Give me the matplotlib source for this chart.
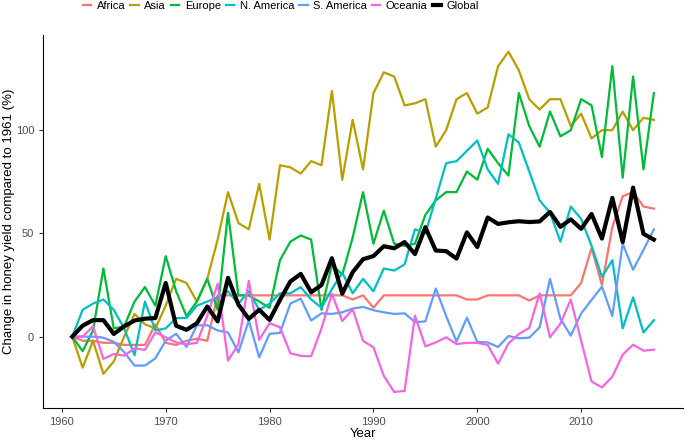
import numpy as np
import matplotlib.pyplot as plt

plt.rcParams['font.family'] = ['Liberation Sans', 'DejaVu Sans']

# Years and series (change in honey yield vs 1961, %)
years = np.arange(1961, 2018)

africa = [0, -2, -2, -3, -3, -4, -4, -4, 6, -3,
          -4, -2, -1, -2, 20, 20, 20, 20, 20, 20,
          20, 20, 20, 20, 20, 20, 20, 18, 20, 14,
          20, 20, 20, 20, 20, 20, 20, 20, 18, 18,
          20, 20, 20, 20, 17.5, 20, 20, 20, 20, 26,
          43, 25, 53, 68, 70, 63, 62]

asia = [0, -15, -2, -18, -12, 0, 11, 6, 4, 15,
        28, 26, 17, 28, 47, 70, 55, 52, 74, 47,
        83, 82, 79, 85, 83, 119, 76, 105, 81, 118,
        128, 126, 112, 113, 115, 92, 100, 115, 118, 108,
        111, 131, 138, 129, 115, 110, 115, 115, 102, 108,
        96, 100, 100, 109, 100, 106, 105]

europe = [0, -7, 3, 33, 4, 5, 17, 24, 15, 39,
          22, 10, 17, 28, 13, 60, 20, 20, 17, 14,
          37, 46, 49, 47, 13, 35, 30, 48, 70, 45,
          61, 45, 44, 45, 59, 66, 70, 70, 80, 76,
          91, 84, 78, 118, 102, 92, 109, 97, 100, 115,
          112, 87, 131, 77, 126, 81, 118]

n_america = [0, 13, 16, 18, 13, 4, -9, 17, 3, 4,
             9, 9, 15, 17, 19, 22, 16, 22, 13, 16,
             21, 21, 24, 18, 14, 23, 31, 21, 28, 22,
             33, 32, 35, 52, 50, 67, 84, 85, 90, 95,
             81, 74, 98, 94, 80, 66, 60, 46, 63, 57,
             44, 29, 37, 4, 19, 2, 8]

s_america = [0, 0, 0, -0.5, -2.5, -7.5, -14, -14, -10.5, -2,
             1.4, -5, 5.5, 5.5, 3, 2, -7.6, 7.8, -10, 1.4,
             1.8, 16, 18.4, 7.8, 11.3, 11, 11.8, 13.6, 14.4, 12.8,
             11.8, 11, 11.3, 7, 7.4, 23.3, 10, -2.4, 9.2, -2.6,
             -2.8, -5, 0.3, -0.8, -0.5, 4.5, 28, 8.7, 0.5, 11.2,
             17.8, 24.2, 10, 45, 32.4, 42, 52]

oceania = [0, 0, 5, -10.8, -8.4, -9.2, -5.7, -6.4, 2, -0.3,
           -2.8, -3.7, -3, 10, 25.6, -11.6, -3.6, 27, -1.5, 6.5,
           4.5, -8, -9.3, -9.5, 4, 20.7, 7.6, 13.3, -2, -5.2,
           -19, -26.8, -26.3, 10.2, -4.7, -2.8, -0.3, -3.6, -3, -3,
           -4, -13, -3.3, 1.3, 4.2, 21, -0.3, 6.3, 18, -2,
           -21.7, -24.6, -19.4, -8.7, -3.9, -6.8, -6.3]

global_ = [0, 5.3, 8, 8, 1.3, 5, 7.8, 8.7, 9, 26,
           5.3, 3.3, 6.5, 14.6, 7.4, 28.5, 15.5, 8.6, 13, 8.1,
           17.8, 26.7, 30.4, 21.5, 25, 38, 20.8, 31.2, 37.5, 39,
           43.8, 42.8, 45.8, 40, 53, 41.7, 41.4, 37.8, 50.5, 43.4,
           57.7, 54.6, 55.4, 55.9, 55.5, 55.8, 60.4, 53.2, 56.8, 52.2,
           59.4, 47.5, 67.2, 45.8, 72.2, 49.8, 47]

regions = ['Africa', 'Asia', 'Europe', 'N. America', 'S. America', 'Oceania']
series = [africa, asia, europe, n_america, s_america, oceania]
colors = ['#F8766D', '#B79F00', '#00BA38', '#00BFC4', '#619CFF', '#F564E3']

fig = plt.figure(figsize=(6.85, 4.4), dpi=100)
ax = fig.add_axes([0.063, 0.073, 0.934, 0.847])

handles = []
for name, vals, c in zip(regions, series, colors):
    h, = ax.plot(years, vals, color=c, lw=1.6, label=name)
    handles.append(h)
h, = ax.plot(years, global_, color='black', lw=3.0, label='Global')
handles.append(h)

ax.set_xlim(1958.2, 2019.8)
ax.set_ylim(-34.5, 146)
ax.set_xticks([1960, 1970, 1980, 1990, 2000, 2010])
ax.set_yticks([0, 50, 100])
ax.spines['top'].set_visible(False)
ax.spines['right'].set_visible(False)
ax.tick_params(labelsize=8, colors='#333333', labelcolor='#4D4D4D', length=3, width=0.8)
ax.set_xlabel('Year', fontsize=9.5, labelpad=1)
ax.set_ylabel('Change in honey yield compared to 1961 (%)', fontsize=9.5)
ax.yaxis.set_label_coords(-0.044, 0.5)

fig.legend(handles=handles, loc='upper center', bbox_to_anchor=(0.41, 1.02), ncol=7,
           frameon=False, fontsize=8, handlelength=0.75, handletextpad=0.5,
           columnspacing=0.45)

fig.savefig('out.png', dpi=100)
